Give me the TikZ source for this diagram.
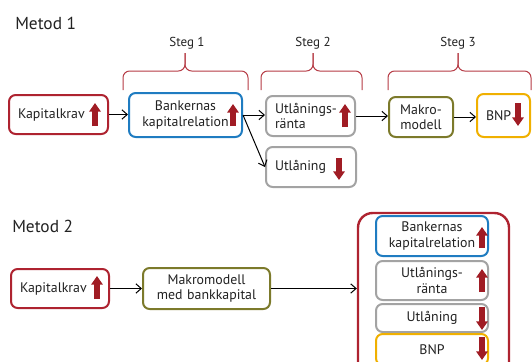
\documentclass[tikz,border=0pt]{standalone}
\usepackage{fontspec}
\setmainfont{PT Sans}
\usetikzlibrary{arrows.meta}
\definecolor{rbred}{HTML}{AE2330}
\definecolor{pilrod}{HTML}{A01C24}
\definecolor{klamrod}{HTML}{B53A44}
\definecolor{rbblue}{HTML}{1F7CC1}
\definecolor{rbgray}{HTML}{A3A3A3}
\definecolor{rbolive}{HTML}{7C7A2B}
\definecolor{rbgold}{HTML}{F0B000}
\definecolor{textgra}{HTML}{222222}

\begin{document}
\begin{tikzpicture}[x=0.75pt,y=-0.75pt,
    boks/.style={draw=#1, line width=1.5pt, rounded corners=5pt, fill=white,
      inner xsep=6.75pt, inner ysep=1pt, text=textgra,
      font=\fontsize{10.4}{11.4}\selectfont},
    upp/.style={draw=pilrod, line width=4.5pt, -{Triangle[width=8.5pt,length=6.5pt]}},
    pil/.style={draw=black, line width=0.75pt, -{Straight Barb[length=4pt,width=7pt]}},
    klammer/.style={draw=klamrod, line width=0.75pt, rounded corners=5pt},
    rubrik/.style={font=\fontsize{13}{15}\selectfont, anchor=west, inner sep=0pt, text=textgra},
    steg/.style={font=\fontsize{9.75}{11}\selectfont, text=textgra}]
  \clip (0,0) rectangle (532,361);

  % Metod 1
  \node[rubrik] (m1) at (15,23) {Metod 1};

  \draw[klammer] (123,90) -- (123,71) -- (185,71) -- (185,53);
  \draw[klammer] (248,90) -- (248,71) -- (185,71) -- (185,53);
  \node[steg] (s1) at (187,43) {Steg 1};
  \draw[klammer] (261,90) -- (261,71) -- (313,71) -- (313,53);
  \draw[klammer] (362,90) -- (362,71) -- (313,71) -- (313,53);
  \node[steg] (s2) at (313,43) {Steg 2};
  \draw[klammer] (388,90) -- (388,71) -- (458,71) -- (458,53);
  \draw[klammer] (531,90) -- (531,71) -- (458,71) -- (458,53);
  \node[steg] (s3) at (458,43) {Steg 3};

  \node[boks=rbred, minimum height=29.25pt, text width=60.75pt, align=left]
    (kk1) at (58.5,114.5) {Kapitalkrav};
  \node[boks=rbblue, minimum height=33pt, text width=71.25pt, align=center]
    (bk1) at (185.5,115) {Bankernas\\kapitalrelation};
  \node[boks=rbgray, minimum height=30pt, text width=53.25pt, align=left]
    (ur1) at (310.5,116) {Utlånings-\\ränta};
  \node[boks=rbgray, minimum height=30pt, text width=54pt, align=left]
    (ul1) at (311,167) {Utlåning};
  \node[boks=rbolive, minimum height=30pt, text width=34.5pt, align=center]
    (mm1) at (421,117) {Makro-\\modell};
  \node[boks=rbgold, minimum height=32.25pt, text width=26.25pt, align=left]
    (bnp1) at (503.5,115.5) {BNP};

  \draw[upp] (95,126) -- (95,103);
  \draw[upp] (233,126) -- (233,104);
  \draw[upp] (345,127) -- (345,104);
  \draw[upp] (339,158) -- (339,180);
  \draw[upp] (518,103) -- (518,126);

  \draw[pil] (kk1.east) -- (kk1.east -| bk1.west);
  \draw[pil] (bk1.east) -- (bk1.east -| ur1.west);
  \draw[pil] (bk1.east) -- (ul1.west);
  \draw[pil] (ur1.east) -- (ur1.east -| mm1.west);
  \draw[pil] (mm1.east) -- (mm1.east -| bnp1.west);

  % Metod 2
  \node[rubrik] (m2) at (12,226) {Metod 2};

  \node[boks=rbred, minimum height=29.25pt, text width=60pt, align=left]
    (kk2) at (60,288.5) {Kapitalkrav};
  \node[boks=rbolive, minimum height=30.75pt, text width=81.75pt, align=center]
    (mb2) at (206.5,288.5) {Makromodell\\med bankkapital};
  \node[boks=rbred, line width=1.8pt, rounded corners=11pt,
    minimum width=113.25pt, minimum height=130.5pt, inner sep=0pt]
    (big) at (433.5,300) {};
  \node[boks=rbblue, minimum height=30pt, text width=70.5pt, align=center]
    (bk2) at (432,236) {Bankernas\\kapitalrelation};
  \node[boks=rbgray, minimum height=29.25pt, text width=70.5pt, align=center]
    (ur2) at (432,280.5) {Utlånings-\\ränta};
  \node[boks=rbgray, minimum height=21pt, text width=70.5pt, align=center]
    (ul2) at (432,318) {Utlåning};
  \node[boks=rbgold, minimum height=23.25pt, text width=70.5pt, align=center]
    (bnp2) at (432,349.5) {BNP};

  \draw[upp] (97,299) -- (97,276);
  \draw[upp] (482,248) -- (482,227);
  \draw[upp] (482,292) -- (482,269);
  \draw[upp] (482,307) -- (482,330);
  \draw[upp] (482,337) -- (482,360);

  \draw[pil] (kk2.east) -- (kk2.east -| mb2.west);
  \draw[pil] (mb2.east) -- (mb2.east -| big.west);
\end{tikzpicture}
\end{document}
